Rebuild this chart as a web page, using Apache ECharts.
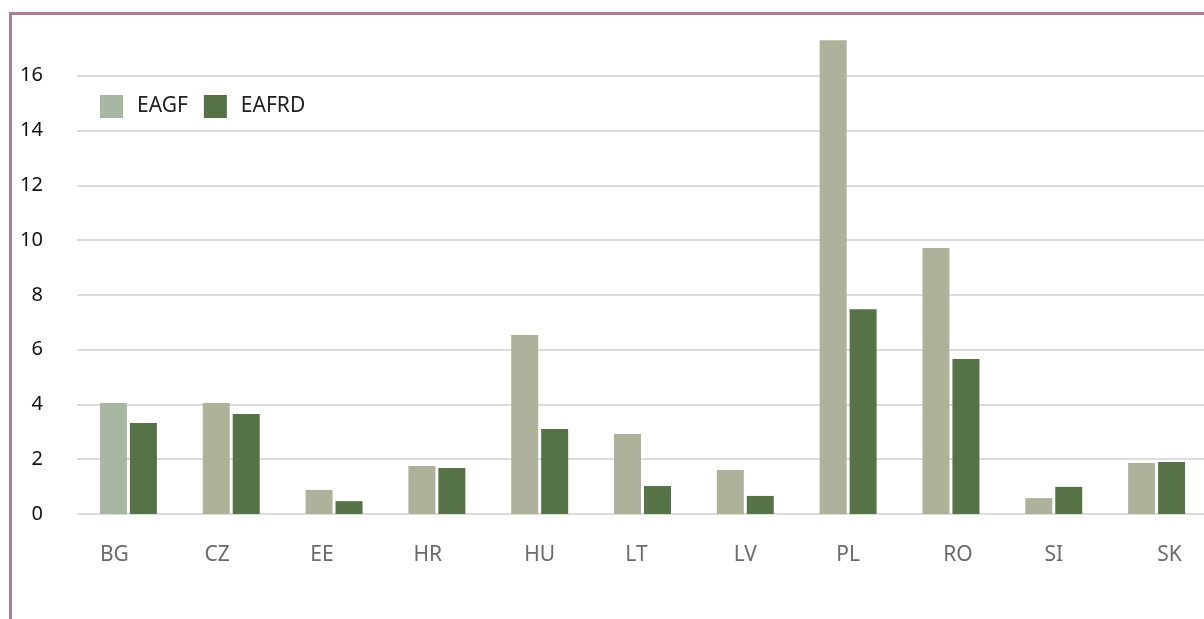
<!DOCTYPE html>
<html>
<head>
    <meta charset="utf-8">
    <title>EAGF / EAFRD</title>
    <script src="https://cdn.jsdelivr.net/npm/echarts@6/dist/echarts.min.js"></script>
    <style>
        body { margin: 0; background: #fff; }
        #main { position: absolute; left: 0; top: 0; width: 1204px; height: 619px; }
        /* purple frame, top and left edge only */
        #frame { position: absolute; left: 9px; top: 12px; width: 1300px; height: 700px;
                 border-top: 3px solid #a97d93; border-left: 3px solid #a97d93; pointer-events: none; }
    </style>
</head>
<body>
<div id="main"></div>
<div id="frame"></div>
<script type="text/javascript">
// data
var countries = ['BG', 'CZ', 'EE', 'HR', 'HU', 'LT', 'LV', 'PL', 'RO', 'SI', 'SK'];
var eagf  = [4.05, 4.05, 0.88, 1.75, 6.54, 2.92, 1.61, 17.3, 9.71, 0.58, 1.86];
var eafrd = [3.32, 3.65, 0.47, 1.68, 3.10, 1.02, 0.66, 7.48, 5.66, 0.99, 1.90];
var yTicks = [0, 2, 4, 6, 8, 10, 12, 14, 16];

// the category labels in the original sit a little off the bar centres
var labelShift = [-14, -14, -12, -9, 0, -6, 0, 0, 7, 0, 13];

var myChart = echarts.init(document.getElementById('main'));

var axisData = countries.map(function (c, i) {
    var s = labelShift[i];
    return { value: c, textStyle: { padding: s < 0 ? [0, -2 * s, 0, 0] : [0, 0, 0, 2 * s] } };
});

var eagfData = eagf.map(function (v, i) {
    // first bar is drawn a bit greener
    return i === 0 ? { value: v, itemStyle: { color: '#a9b7a2' } } : v;
});

// hide the line at the top (18) of the axis
var gridColors = yTicks.map(function () { return '#dcdcdc'; });
gridColors.push('rgba(0,0,0,0)');

myChart.setOption({
    animation: false,
    textStyle: { fontFamily: 'Noto Sans' },
    legend: {
        left: 100,
        top: 95,
        padding: 0,
        itemWidth: 23,
        itemHeight: 23,
        itemGap: 16,
        icon: 'rect',
        textStyle: { fontSize: 21, color: '#222', padding: [2, 0, 0, 9] },
        data: [
            { name: 'EAGF', itemStyle: { color: '#a9b7a2' } },
            { name: 'EAFRD' }
        ]
    },
    grid: { left: 77, right: -4, top: 21, bottom: 105, outerBoundsMode: 'none' },
    xAxis: {
        type: 'category',
        data: axisData,
        axisLine: { show: false },
        axisTick: { show: false },
        axisLabel: { fontSize: 21, color: '#6b6b6b', margin: 31 }
    },
    yAxis: {
        type: 'value',
        min: 0,
        max: 18,
        interval: 2,
        axisLine: { show: false },
        axisTick: { show: false },
        axisLabel: {
            fontSize: 20,
            color: '#111',
            margin: 34,
            formatter: function (v) { return v === 18 ? '' : v; }
        },
        splitLine: { lineStyle: { color: gridColors, width: 2 } }
    },
    series: [
        {
            name: 'EAGF',
            type: 'bar',
            barWidth: 27,
            barGap: '11%',
            itemStyle: { color: '#aeb29b' },
            data: eagfData
        },
        {
            name: 'EAFRD',
            type: 'bar',
            barWidth: 27,
            itemStyle: { color: '#557347' },
            data: eafrd
        }
    ]
});
</script>
</body>
</html>
